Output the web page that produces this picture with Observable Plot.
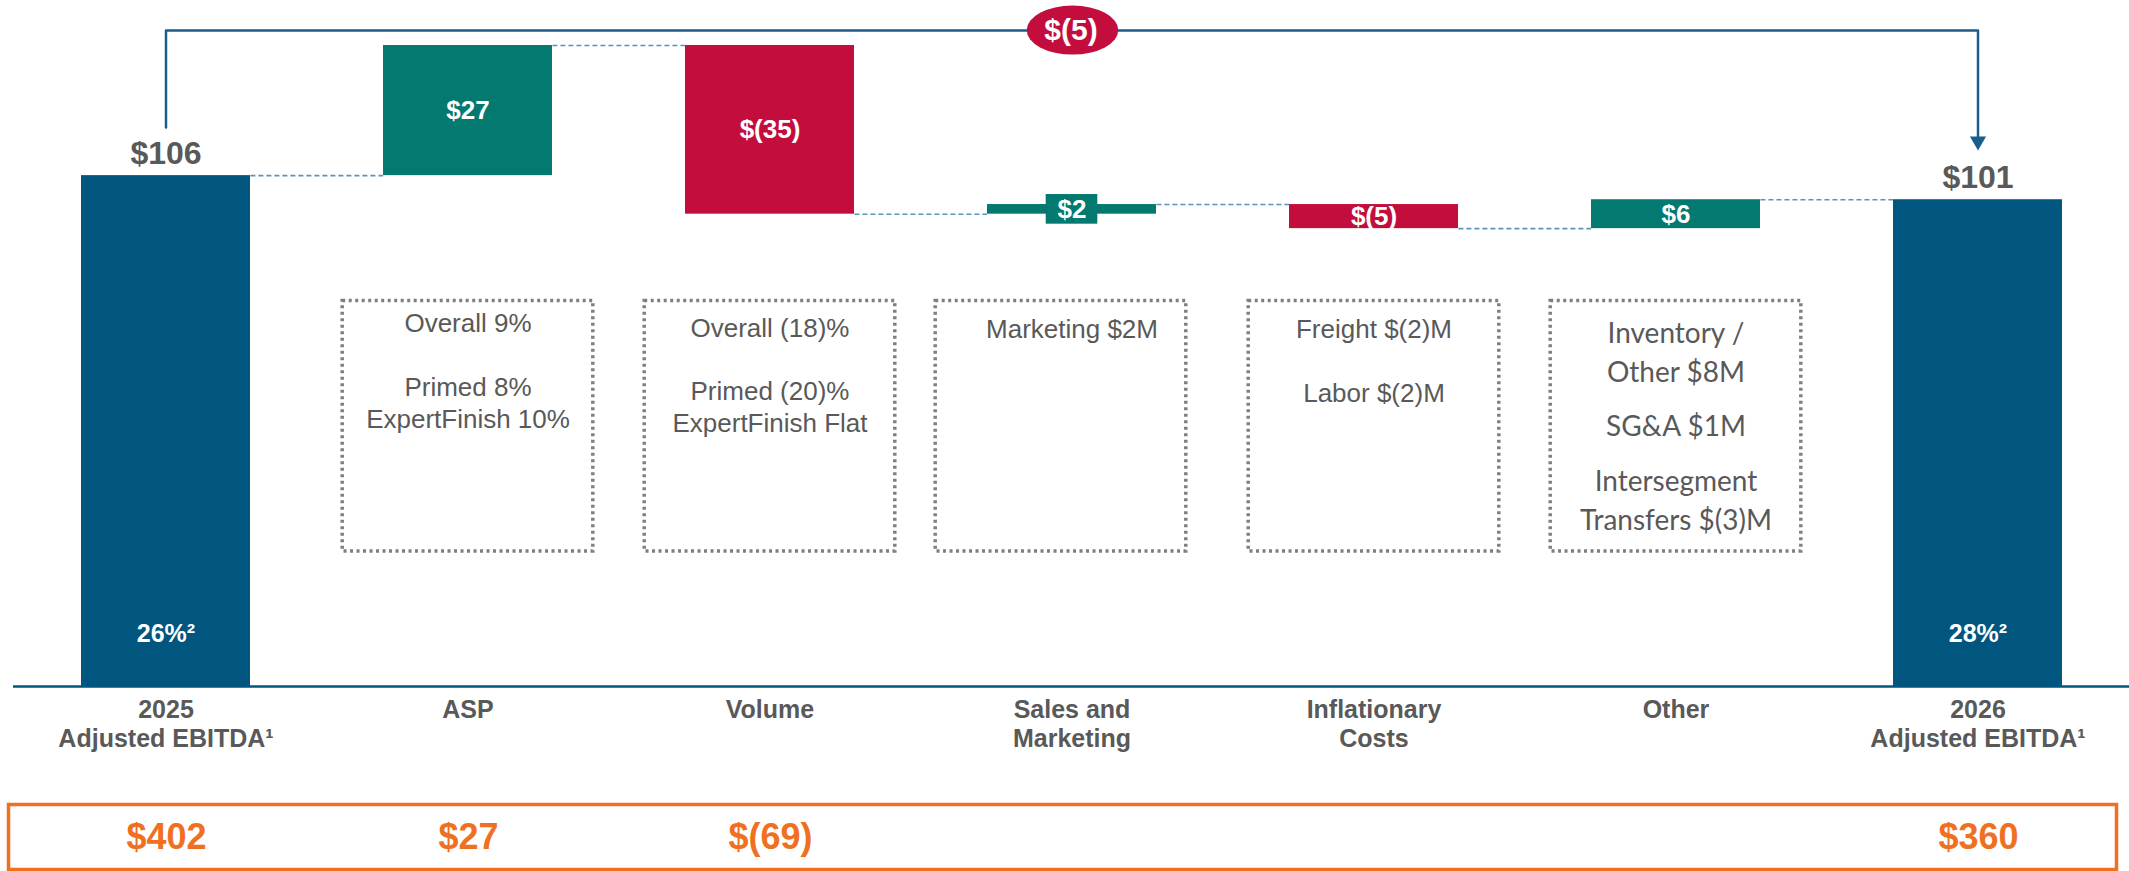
<!DOCTYPE html>
<html><head><meta charset="utf-8">
<script src="https://cdn.jsdelivr.net/npm/d3@7"></script>
<script src="https://cdn.jsdelivr.net/npm/@observablehq/plot@0.6"></script>
<style>
html,body{margin:0;padding:0;background:#fff;}
#chart svg{display:block;}
</style></head><body><div id="chart"></div>
<script>
// ---------- data ----------
const categories = ["2025 Adjusted EBITDA","ASP","Volume","Sales and Marketing","Inflationary Costs","Other","2026 Adjusted EBITDA"];
const axisLabels = ["2025\nAdjusted EBITDA¹","ASP","Volume","Sales and\nMarketing","Inflationary\nCosts","Other","2026\nAdjusted EBITDA¹"];
const values = [106, 27, -35, 2, -5, 6, 101];
const kinds = ["total","delta","delta","delta","delta","delta","total"];
const valueLabels = ["$106","$27","$(35)","$2","$(5)","$6","$101"];
const marginLabels = ["26%²","","","","","","28%²"];
const fullYearLabels = ["$402","$27","$(69)","","","","$360"];
const bridgeLabel = "$(5)";
const noteCategories = ["ASP","Volume","Sales and Marketing","Inflationary Costs"];
const noteTexts = ["Overall 9%\n\nPrimed 8%\nExpertFinish 10%","Overall (18)%\n\nPrimed (20)%\nExpertFinish Flat","Marketing $2M","Freight $(2)M\n\nLabor $(2)M"];
const otherNoteCategory = "Other";
const otherNotes = ["Inventory /\nOther $8M","SG&A $1M","Intersegment\nTransfers $(3)M"];

// ---------- layout / style ----------
const W = 2129, H1 = 800, H2 = 71;
const xRange = [12.75, 2130.25];
const padIn = 0.44, padOut = 0.22;
const step = (xRange[1] - xRange[0]) / categories.length;
const bw = step * (1 - padIn);
const yRange = [686, 45];
const boxTop = 80, boxBottom = 28, boxWidth = 251;
const bracketFrom = 116, bracketLevel = 136.1, arrowTip = 111.2, arrowLineEnd = 113.5;
const NAVY = "#00567F", TEAL = "#03796F", RED = "#C30E3D", GRAY = "#595959", ORANGE = "#F07022";
const CONNECT = "#5E93BB", BOXGRAY = "#7F7F7F";
const FONT = "'Liberation Sans', Arial, sans-serif";

// ---------- waterfall ----------
let run = 0;
const bars = categories.map((c, i) => {
  let y1, y2;
  if (kinds[i] === "total") { y1 = 0; y2 = values[i]; }
  else { y1 = run; y2 = run + values[i]; }
  run = y2;
  const fill = kinds[i] === "total" ? NAVY : (values[i] >= 0 ? TEAL : RED);
  return {cat: c, y1, y2, mid: (y1 + y2) / 2, end: y2, fill, label: valueLabels[i], kind: kinds[i], margin: marginLabels[i], axis: axisLabels[i]};
});
const maxEnd = d3.max(bars, d => Math.max(d.y1, d.y2));
const connectors = bars.slice(0, -1).map(d => ({cat: d.cat, level: d.end}));
const totals = bars.filter(d => d.kind === "total");
const deltas = bars.filter(d => d.kind === "delta");
const smallDelta = deltas.filter(d => Math.abs(d.y2 - d.y1) < 3);

const xScale = {domain: categories, range: xRange, paddingInner: padIn, paddingOuter: padOut, align: 0.5, axis: null};
const boxInset = -(boxWidth - bw) / 2;
const notes = noteCategories.map((c, i) => ({cat: c, text: noteTexts[i]}));
const noteDy = [8.7, 13, 14.3, 14.3];
const noteShift = [0, 0, -11, 0];
const otherDy = [14.6, 107.6, 161.9];
const boxStyle = {fill: "none", stroke: BOXGRAY, strokeWidth: 3.5, strokeDasharray: "3,3.5"};

const marks = [];
// dashed annotation boxes
notes.forEach((n, i) => {
  marks.push(Plot.barY([n], {x: "cat", y1: () => boxBottom, y2: () => boxTop, ...boxStyle,
    insetLeft: boxInset + noteShift[i], insetRight: boxInset - noteShift[i]}));
});
marks.push(Plot.barY([{cat: otherNoteCategory}], {x: "cat", y1: () => boxBottom, y2: () => boxTop, ...boxStyle, insetLeft: boxInset, insetRight: boxInset}));
// bars
marks.push(Plot.barY(bars, {x: "cat", y1: "y1", y2: "y2", fill: d => d.fill}));
// connectors
marks.push(Plot.tickY(connectors, {x: "cat", y: "level", stroke: CONNECT, strokeWidth: 1.6, strokeDasharray: "5,3", insetLeft: bw, insetRight: -(step - bw)}));
// baseline
marks.push(Plot.ruleY([0], {stroke: NAVY, strokeWidth: 2.5}));
// background chip for tiny delta labels
marks.push(Plot.barY(smallDelta, {x: "cat", y1: "y1", y2: "y2", fill: d => d.fill, insetLeft: (bw - 52) / 2, insetRight: (bw - 52) / 2, insetTop: -10, insetBottom: -10}));
// delta labels
marks.push(Plot.text(deltas, {x: "cat", y: "mid", text: "label", fill: "white", fontSize: 26, fontWeight: "bold"}));
// total labels
marks.push(Plot.text(totals, {x: "cat", y: "y2", text: "label", fill: GRAY, fontSize: 32, fontWeight: "bold", dy: -22}));
// margin labels
marks.push(Plot.text(totals, {x: "cat", y: () => 0, text: "margin", fill: "white", fontSize: 25, fontWeight: "bold", dy: -53}));
// category labels
marks.push(Plot.text(bars, {x: "cat", y: () => 0, text: "axis", fill: GRAY, fontSize: 25, fontWeight: "bold", lineAnchor: "top", dy: 10.6, lineHeight: 1.16}));
// note texts
notes.forEach((n, i) => {
  marks.push(Plot.text([n], {x: "cat", y: () => boxTop, text: "text", fill: GRAY, fontSize: 26, lineAnchor: "top", lineHeight: 1.225, dy: noteDy[i]}));
});
otherNotes.forEach((t, i) => {
  marks.push(Plot.text([{cat: otherNoteCategory, text: t}], {x: "cat", y: () => boxTop, text: "text", fill: GRAY, fontSize: 28, fontFamily: "Lato, 'Open Sans', sans-serif", lineAnchor: "top", lineHeight: 1.393, dy: otherDy[i]}));
});
// bridge bracket
const first = categories[0], last = categories[categories.length - 1];
marks.push(Plot.line([{cat: first, v: bracketFrom}, {cat: first, v: bracketLevel}, {cat: last, v: bracketLevel}, {cat: last, v: arrowLineEnd}], {x: "cat", y: "v", stroke: "#1A5F8C", strokeWidth: 2.5}));
marks.push(Plot.dot([{cat: last, v: arrowTip}], {x: "cat", y: "v", symbol: "triangle", r: 6, fill: "#1A5F8C", rotate: 180, dy: -9.3}));
const bridgeCat = categories[3];
marks.push(Plot.barY([{cat: bridgeCat, v: bracketLevel}], {x: "cat", y1: "v", y2: "v", fill: RED, insetLeft: (bw - 92) / 2 + 1, insetRight: (bw - 92) / 2 - 1, insetTop: -24.5, insetBottom: -24.5, rx: 46, ry: 24.5}));
marks.push(Plot.text([{cat: bridgeCat, v: bracketLevel, t: bridgeLabel}], {x: "cat", y: "v", text: "t", fill: "white", fontSize: 30, fontWeight: "bold", dx: -1}));

const main = Plot.plot({
  width: W, height: H1, marginLeft: 13, marginRight: 0, marginTop: 0, marginBottom: 0,
  style: {fontFamily: FONT, background: "white", overflow: "visible"},
  x: xScale,
  y: {domain: [0, maxEnd], range: yRange, axis: null},
  marks
});

const bottom = Plot.plot({
  width: W, height: H2, marginLeft: 8, marginRight: 13, marginTop: 4, marginBottom: 2,
  style: {fontFamily: FONT, background: "white"},
  x: xScale,
  marks: [
    Plot.frame({stroke: ORANGE, strokeWidth: 3.5}),
    Plot.text(categories.map((c, i) => ({cat: c, t: fullYearLabels[i]})), {x: "cat", text: "t", frameAnchor: "middle", fill: ORANGE, fontSize: 36, fontWeight: "bold"})
  ]
});

document.getElementById("chart").append(main, bottom);
</script></body></html>
